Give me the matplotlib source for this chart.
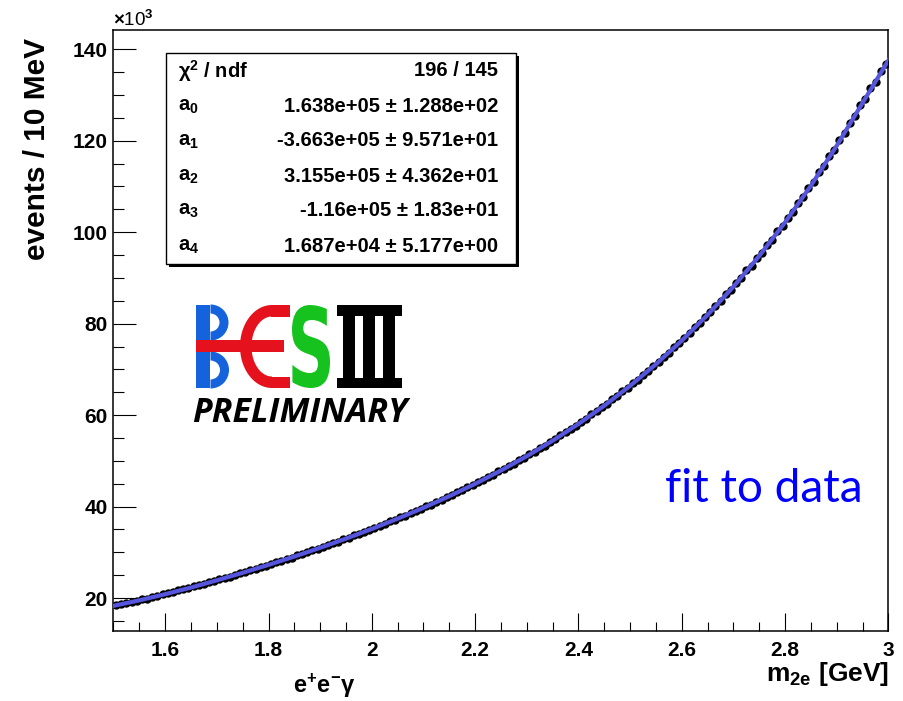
import numpy as np
import matplotlib
matplotlib.use("Agg")
import matplotlib.pyplot as plt
from matplotlib.patches import Rectangle, Wedge, PathPatch
from matplotlib.path import Path
from matplotlib.textpath import TextPath
from matplotlib.font_manager import FontProperties
from matplotlib.transforms import Affine2D
from matplotlib.ticker import MultipleLocator, FuncFormatter

# ROOT-like look: Helvetica-ish bold everywhere
plt.rcParams["font.family"] = ["Liberation Sans", "DejaVu Sans"]
plt.rcParams["font.weight"] = "bold"
plt.rcParams["mathtext.fontset"] = "custom"
plt.rcParams["mathtext.rm"] = "Liberation Sans"
plt.rcParams["mathtext.bf"] = "Liberation Sans:bold"
plt.rcParams["mathtext.it"] = "Liberation Sans:italic"

# =========================
# Data (events in units of 10^3 per 10 MeV bin)
# =========================
BIN_LO = 1.5
BIN_W = 0.01

EVENTS = [
    18.45, 18.62, 18.90, 19.18, 19.35, 19.72, 19.90, 20.21, 20.47, 20.80,
    21.05, 21.30, 21.85, 21.95, 22.10, 22.55, 22.80, 23.05, 23.50, 23.70,
    24.10, 24.45, 24.65, 25.15, 25.40, 25.65, 26.15, 26.35, 26.85, 27.05,
    27.40, 27.90, 28.15, 28.60, 28.85, 29.35, 29.60, 30.10, 30.45, 30.75,
    31.25, 31.55, 32.10, 32.35, 32.85, 33.15, 33.70, 34.05, 34.55, 34.90,
    35.30, 35.85, 36.20, 36.75, 37.10, 37.65, 38.05, 38.60, 39.00, 39.55,
    40.05, 40.45, 41.10, 41.45, 42.10, 42.50, 43.15, 43.60, 44.25, 44.65,
    45.30, 45.80, 46.50, 47.00, 47.70, 48.15, 48.90, 49.40, 50.20, 50.70,
    51.45, 52.00, 52.80, 53.35, 54.15, 54.70, 55.60, 56.20, 57.05, 57.65,
    58.55, 59.20, 60.15, 60.80, 61.75, 62.45, 63.45, 64.15, 65.20, 65.90,
    66.95, 67.75, 68.85, 69.65, 70.80, 71.55, 72.80, 73.60, 74.90, 75.70,
    76.95, 77.90, 79.25, 80.15, 81.50, 82.45, 83.95, 84.90, 86.40, 87.35,
    88.90, 90.00, 91.65, 92.70, 94.35, 95.40, 97.20, 98.35, 100.15, 101.30,
    103.15, 104.40, 106.40, 107.60, 109.60, 110.90, 113.05, 114.40, 116.55, 117.90,
    120.10, 121.60, 123.95, 125.40, 127.75, 129.10, 131.45, 132.90, 135.25, 136.80,
]

FIT_X = [1.50, 1.55, 1.60, 1.65, 1.70, 1.75, 1.80, 1.85, 1.90, 1.95,
         2.00, 2.05, 2.10, 2.15, 2.20, 2.25, 2.30, 2.35, 2.40, 2.45,
         2.50, 2.55, 2.60, 2.65, 2.70, 2.75, 2.80, 2.85, 2.90, 2.95, 3.00]
FIT_Y = [18.30, 19.50, 20.85, 22.30, 23.88, 25.53, 27.26, 29.08, 30.99, 33.00,
         35.12, 37.36, 39.74, 42.27, 44.98, 47.89, 51.03, 54.41, 58.08, 62.07,
         66.41, 71.14, 76.30, 81.94, 88.10, 94.83, 102.17, 110.19, 118.94, 128.30, 137.60]

STAT_NAMES = ["χ$^{\\mathbf{2}}$ / ndf", r"$\mathbf{a}_{\mathbf{0}}$", r"$\mathbf{a}_{\mathbf{1}}$",
              r"$\mathbf{a}_{\mathbf{2}}$", r"$\mathbf{a}_{\mathbf{3}}$", r"$\mathbf{a}_{\mathbf{4}}$"]
STAT_VALUES = ["196 / 145",
               "1.638e+05 ± 1.288e+02",
               "-3.663e+05 ± 9.571e+01",
               "3.155e+05 ± 4.362e+01",
               "-1.16e+05 ± 1.83e+01",
               "1.687e+04 ± 5.177e+00"]

W, H = 904, 701
fig = plt.figure(figsize=(W / 100, H / 100), dpi=100)

# =========================
# Main frame
# =========================
ax = fig.add_axes([113.5 / W, 70 / H, 775 / W, 601 / H])
centers = BIN_LO + BIN_W * (np.arange(len(EVENTS)) + 0.5)
ax.plot(centers, EVENTS, "o", color="black", ms=5, zorder=2)
ax.plot(FIT_X, FIT_Y, color="#5555dd", lw=3, zorder=3)

ax.set_xlim(1.5, 3.0)
ax.set_ylim(12.8, 144.2)
ax.xaxis.set_major_locator(MultipleLocator(0.2))
ax.xaxis.set_minor_locator(MultipleLocator(0.05))
ax.yaxis.set_major_locator(MultipleLocator(20))
ax.yaxis.set_minor_locator(MultipleLocator(5))
fmt = FuncFormatter(lambda v, p: f"{v:g}")
ax.xaxis.set_major_formatter(fmt)
ax.yaxis.set_major_formatter(fmt)
ax.tick_params(which="both", direction="in", top=False, right=False, width=0.8)
ax.tick_params(axis="y", which="major", length=16.5, pad=4, labelsize=15)
ax.tick_params(axis="y", which="minor", length=8)
ax.tick_params(axis="x", which="major", length=13, pad=7, labelsize=15)
ax.tick_params(axis="x", which="minor", length=6.5)
for s in ax.spines.values():
    s.set_linewidth(1.1)

# =========================
# Overlay in pixel coordinates (labels, stat box, logo)
# =========================
ov = fig.add_axes([0, 0, 1, 1], zorder=5)
ov.set_xlim(0, W)
ov.set_ylim(H, 0)
ov.axis("off")
ov.patch.set_alpha(0)

ov.text(113, 26, r"$\times$10$^{3}$", fontsize=13.5, fontweight="normal", va="baseline")
ov.text(37, 38, "events / 10 MeV", rotation=90, ha="center", va="top", fontsize=21.5)
ov.text(889, 681, r"m$_{\mathbf{2e}}$ [GeV]", ha="right", va="baseline", fontsize=19)
ov.text(324, 693, "e$^{\\mathbf{+}}$e$^{\\mathbf{-}}$γ", ha="center", va="baseline", fontsize=17)

# stat box with shadow
ov.add_patch(Rectangle((169.5, 55.5), 350, 211, fc="black", ec="none"))
ov.add_patch(Rectangle((166.5, 52.5), 350, 211, fc="white", ec="black", lw=1))
for i, (name, val) in enumerate(zip(STAT_NAMES, STAT_VALUES)):
    yc = 53.5 + 17.5 + 35 * i
    ov.text(178, yc, name, fontsize=14.5, ha="left", va="center")
    ov.text(498, yc, val, fontsize=14.5, ha="right", va="center")

# BESIII logo
BLUE, RED, GREEN = "#1463dc", "#e5121d", "#16c21e"
ov.add_patch(Rectangle((196, 305), 14, 83, color=BLUE, lw=0))
ov.add_patch(Wedge((210.5, 322.5), 18, -90, 90, width=9, color=BLUE, lw=0))
ov.add_patch(Wedge((210.5, 370), 18.5, -90, 90, width=9, color=BLUE, lw=0))

t = np.linspace(np.pi / 2, 3 * np.pi / 2, 60)
outer = np.column_stack([272 + 32 * np.cos(t), 346.5 + 41.5 * np.sin(t)])
inner = np.column_stack([272 + 20.5 * np.cos(t[::-1]), 346.5 + 30 * np.sin(t[::-1])])
verts = np.vstack([outer, inner, outer[:1]])
codes = [Path.MOVETO] + [Path.LINETO] * (len(verts) - 2) + [Path.CLOSEPOLY]
ov.add_patch(PathPatch(Path(verts, codes), color=RED, lw=0))
ov.add_patch(Rectangle((271.5, 305), 18.5, 11.5, color=RED, lw=0))
ov.add_patch(Rectangle((271.5, 376.5), 18.5, 11.5, color=RED, lw=0))
ov.add_patch(Rectangle((196, 340), 88, 12, color=RED, lw=0))


def glyph(ch, x0, x1, y0, y1, color):
    tp = TextPath((0, 0), ch, size=100, prop=FontProperties(family="DejaVu Sans", weight="bold"))
    bb = tp.get_extents()
    tr = (Affine2D().translate(-bb.x0, -bb.y0)
          .scale((x1 - x0) / bb.width, -(y1 - y0) / bb.height)
          .translate(x0, y1))
    ov.add_patch(PathPatch(tr.transform_path(tp), color=color, lw=0))


glyph("S", 292, 330, 305, 388, GREEN)

ov.add_patch(Rectangle((337, 305), 65, 10.5, color="black", lw=0))
ov.add_patch(Rectangle((337, 377.5), 65, 10.5, color="black", lw=0))
for sx in (343.5, 363.5, 383.5):
    ov.add_patch(Rectangle((sx, 305), 12, 83, color="black", lw=0))

ov.text(300, 413.5, "PRELIMINARY", family=["Open Sans", "DejaVu Sans"], fontweight="bold",
        fontstyle="italic", fontsize=24.5, ha="center", va="center")
ov.text(665, 502, "fit to data", family=["Lato", "DejaVu Sans"], fontweight="normal",
        fontsize=33, color="#0000ff", ha="left", va="baseline")

fig.savefig("out.png", dpi=100)
